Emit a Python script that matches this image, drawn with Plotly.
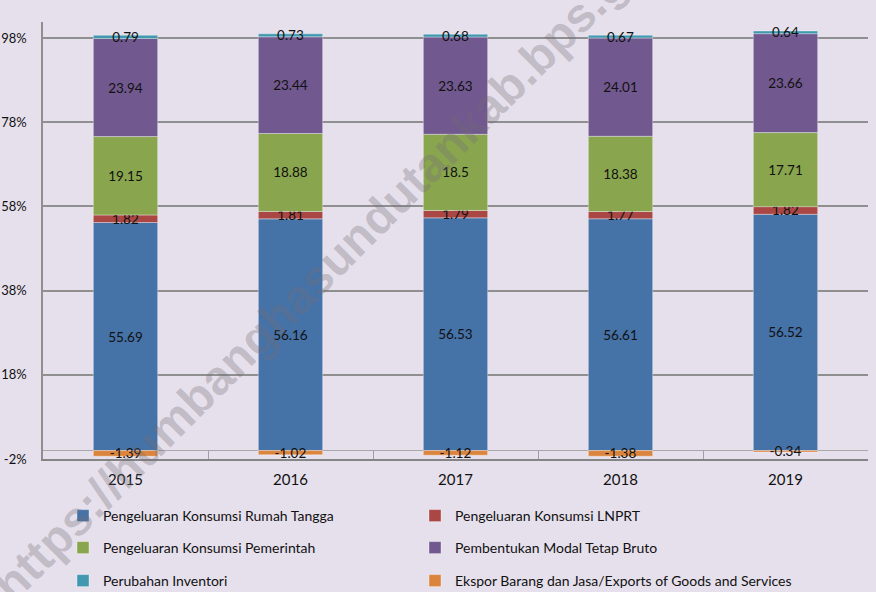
import plotly.graph_objects as go

YEARS = ["2015", "2016", "2017", "2018", "2019"]

# shares of GDRP by expenditure component (percent)
RUMAH_TANGGA = [55.69, 56.16, 56.53, 56.61, 56.52]
LNPRT = [1.82, 1.81, 1.79, 1.77, 1.82]
PEMERINTAH = [19.15, 18.88, 18.5, 18.38, 17.71]
PMTB = [23.94, 23.44, 23.63, 24.01, 23.66]
INVENTORI = [0.79, 0.73, 0.68, 0.67, 0.64]
EKSPOR = [-1.39, -1.02, -1.12, -1.38, -0.34]

SERIES = [
    ("Pengeluaran Konsumsi Rumah Tangga", RUMAH_TANGGA, "#4572A7"),
    ("Pengeluaran Konsumsi LNPRT", LNPRT, "#AA4643"),
    ("Pengeluaran Konsumsi Pemerintah", PEMERINTAH, "#89A54E"),
    ("Pembentukan Modal Tetap Bruto", PMTB, "#71588F"),
    ("Perubahan Inventori", INVENTORI, "#4198AF"),
    ("Ekspor Barang dan Jasa/Exports of Goods and Services", EKSPOR, "#DB843D"),
]

Y_TICKS = [-2, 18, 38, 58, 78, 98]
Y_TICK_LABELS = ["-2%", "18%", "38%", "58%", "78%", "98%"]

BG = "#E6E0EC"
GRID = "#8f8f8f"
FONT = "Lato"

PLOT_L, PLOT_R, PLOT_T, PLOT_B = 43, 868, 22, 459
W, H = 876, 592
pw = PLOT_R - PLOT_L
ph = PLOT_B - PLOT_T


def px_x(x):
    return (x - PLOT_L) / pw


def px_y(y):
    return (PLOT_B - y) / ph


# one legend box per entry: two columns, three rows
LEGEND_SPOTS = [(63, 516), (415, 516), (63, 548), (415, 548), (63, 581), (415, 581)]

# 100% stacked like the spreadsheet: each value over the sum of absolute values
totals = [sum(abs(s[1][i]) for s in SERIES) for i in range(len(YEARS))]

fig = go.Figure()
legends = {}
for k, (name, vals, color) in enumerate(SERIES):
    leg = "legend" if k == 0 else f"legend{k + 1}"
    pct = [v / t * 100 for v, t in zip(vals, totals)]
    fig.add_trace(go.Bar(
        x=YEARS, y=pct, name=name,
        marker=dict(color=color, line=dict(color="rgba(255,255,255,0.35)", width=1)),
        text=[str(v) for v in vals],
        textposition="inside", insidetextanchor="middle",
        textangle=0, constraintext="none",
        textfont=dict(family=FONT, size=13.5, color="#111111"),
        width=0.39,
        legend=leg,
    ))
    lx, ly = LEGEND_SPOTS[k]
    legends[leg] = dict(
        x=px_x(lx), y=px_y(ly), xanchor="left", yanchor="middle",
        orientation="h", bgcolor="rgba(0,0,0,0)",
        font=dict(family=FONT, size=14, color="#111111"),
    )

fig.update_layout(
    width=W, height=H,
    barmode="relative",
    showlegend=True,
    paper_bgcolor=BG, plot_bgcolor=BG,
    margin=dict(l=PLOT_L, r=W - PLOT_R, t=PLOT_T, b=H - PLOT_B, autoexpand=False),
    font=dict(family=FONT, color="#111111"),
    uniformtext=dict(minsize=13.5, mode="show"),
    xaxis=dict(
        showgrid=False, automargin=False,
        showline=True, linecolor="#858585", linewidth=2,
        ticks="inside", tickson="boundaries", ticklen=8,
        tickcolor="#a0a0a0", tickwidth=1,
        tickfont=dict(family=FONT, size=15, color="#111111"),
        ticklabelstandoff=6,
    ),
    yaxis=dict(
        range=[-2, -2 + ph * 100 / 421], automargin=False,
        tickvals=Y_TICKS, ticktext=Y_TICK_LABELS,
        showgrid=True, gridcolor=GRID, gridwidth=1.5,
        showline=True, linecolor=GRID, linewidth=1.5,
        zeroline=True, zerolinecolor="#a8a8a8", zerolinewidth=1,
        ticks="", ticklabelstandoff=12,
        tickfont=dict(family=FONT, size=13, color="#111111"),
    ),
    annotations=[dict(
        text="https://humbanghasundutankab.bps.go.id",
        xref="paper", yref="paper", x=px_x(340), y=px_y(255),
        showarrow=False, textangle=-45,
        font=dict(family="Liberation Sans", size=48, color="rgba(115,110,120,0.32)", weight="bold"),
    )],
    **legends,
)

# the page's default body margin would shift the figure by 8px
fig.write_html(
    "out.html",
    config={"displayModeBar": False},
    post_script="document.body.style.margin='0';",
)
